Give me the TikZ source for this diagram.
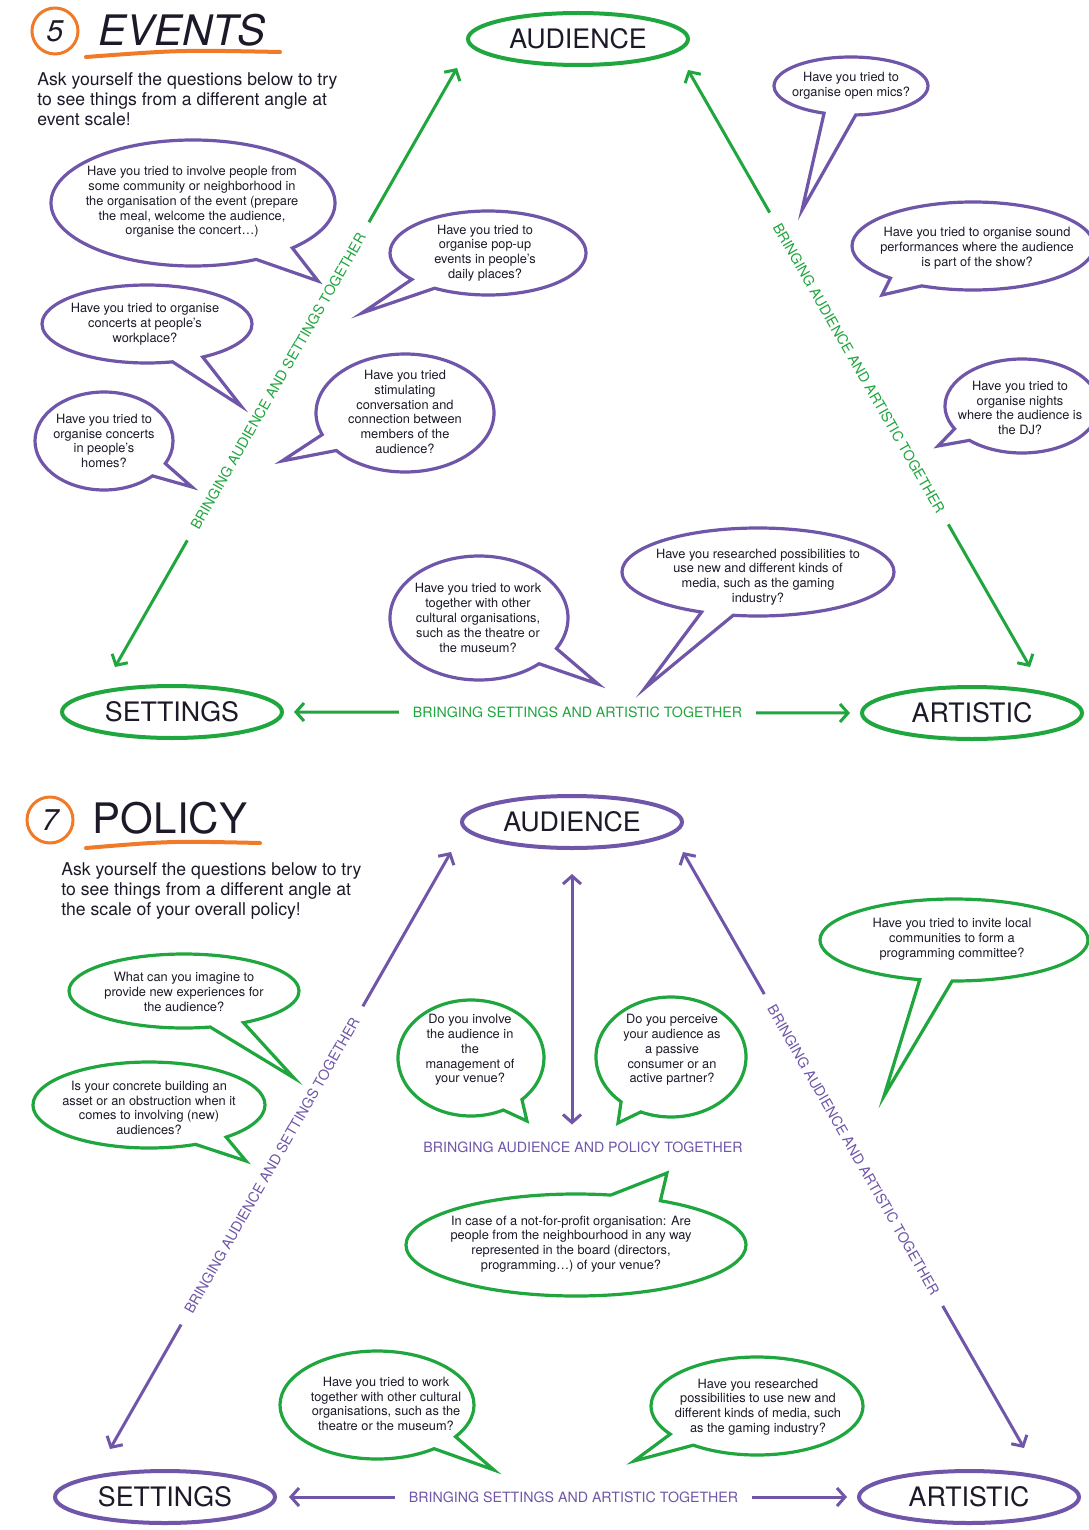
\documentclass[tikz,border=0pt]{standalone}
\usepackage{fontspec}
\setmainfont{TeX Gyre Heros}
\usetikzlibrary{shapes.geometric,shapes.callouts,arrows.meta}

\definecolor{evgreen}{RGB}{32,166,62}
\definecolor{polpurple}{RGB}{111,86,168}
\definecolor{tagorange}{RGB}{240,122,40}
\definecolor{inkdark}{RGB}{30,25,40}

\begin{document}
\begin{tikzpicture}[x=0.5pt, y=-0.5pt,
        hub/.style={ellipse, draw=#1, line width=2pt, minimum width=110pt, minimum height=26pt, inner sep=0pt, text=inkdark, font=\fontsize{13.4}{14}\selectfont},
        qbubble/.style={ellipse callout, draw=#1, line width=1.6pt, fill=white, inner sep=0pt, callout pointer arc=18},
        qtext/.style={align=center, inner sep=0pt, text=inkdark, font=\fontsize{6.4}{7.4}\selectfont},
        linkline/.style={draw=#1, line width=1.5pt, {Straight Barb[length=4pt,width=9pt]}-{Straight Barb[length=4pt,width=9pt]}},
        linktag/.style={fill=white, text=#1, inner xsep=7pt, inner ysep=1pt, font=\fontsize{7.1}{8}\selectfont},
        intro/.style={align=left, anchor=west, inner sep=0pt, text=inkdark, font=\fontsize{8.8}{10}\selectfont},
        numring/.style={circle, draw=tagorange, line width=1.5pt, minimum size=23pt, inner sep=0pt, text=inkdark, font=\fontsize{15}{15}\selectfont\itshape}]
        \fill[white] (0,0) rectangle (1088,1530);
        \useasboundingbox (0,0) rectangle (1088,1530);

        \node[numring] (num5) at (55,31) {5};
        \node[text=inkdark, font=\fontsize{21}{21}\selectfont\itshape] (evtitle) at (182,30) {EVENTS};
        \draw[tagorange, line width=2pt, line cap=round] (86,57) .. controls (180,50) .. (280,52);
        \node[intro] (evintro) at (37,99) {Ask yourself the questions below to try\\to see things from a different angle at\\event scale!};

        \node[hub=evgreen] (aud1) at (578,39) {AUDIENCE};
        \node[hub=evgreen] (set1) at (172,712) {SETTINGS};
        \node[hub=evgreen] (art1) at (972,713) {ARTISTIC};

        \draw[linkline=evgreen] ([shift={(-57,-17)}]set1.north) -- node[linktag=evgreen, sloped, pos=.477] {BRINGING AUDIENCE AND SETTINGS TOGETHER} ([shift={(-9,29)}]aud1.west);
        \draw[linkline=evgreen] ([shift={(-2,31)}]aud1.east) -- node[linktag=evgreen, sloped] {BRINGING AUDIENCE AND ARTISTIC TOGETHER} ([shift={(58,-18)}]art1.north);
        \draw[linkline=evgreen] ([xshift=5pt]set1.east) -- node[linktag=evgreen, pos=.51] {BRINGING SETTINGS AND ARTISTIC TOGETHER} ([xshift=-5pt]art1.west);

        \node[qbubble=polpurple, minimum width=142pt, minimum height=63pt, callout absolute pointer={(318,281)}] (q1) at (193,203) {};
        \node[qtext] (t1) at (192,202) {Have you tried to involve people from\\some community or neighborhood in\\the organisation of the event (prepare\\the meal, welcome the audience,\\organise the concert\ldots)};
        \node[qbubble=polpurple, minimum width=105pt, minimum height=39pt, callout absolute pointer={(241,406)}] (q2) at (147,324) {};
        \node[qtext] (t2) at (145,324) {Have you tried to organise\\concerts at people’s\\workplace?};
        \node[qbubble=polpurple, minimum width=69pt, minimum height=49pt, callout absolute pointer={(192,487)}] (q3) at (104,441) {};
        \node[qtext] (t3) at (104,441) {Have you tried to\\organise concerts\\in people’s\\homes?};
        \node[qbubble=polpurple, minimum width=98pt, minimum height=42pt, callout absolute pointer={(362,313)}] (q4) at (488,253) {};
        \node[qtext] (t4) at (485,253) {Have you tried to\\organise pop-up\\events in people’s\\daily places?};
        \node[qbubble=polpurple, minimum width=89pt, minimum height=59pt, callout absolute pointer={(282,461)}] (q5) at (405,413) {};
        \node[qtext] (t5) at (405,412) {Have you tried\\stimulating\\conversation and\\connection between\\members of the\\audience?};
        \node[qbubble=polpurple, minimum width=77pt, minimum height=29pt, callout absolute pointer={(802,210)}, callout pointer arc=24] (q6) at (851,86) {};
        \node[qtext] (t6) at (851,86) {Have you tried to\\organise open mics?};
        \node[qbubble=polpurple, minimum width=121pt, minimum height=44pt, callout absolute pointer={(882,295)}] (q7) at (973,246) {};
        \node[qtext] (t7) at (977,248) {Have you tried to organise sound\\performances where the audience\\is part of the show?};
        \node[qbubble=polpurple, minimum width=77pt, minimum height=47pt, callout absolute pointer={(938,446)}] (q8) at (1022,406) {};
        \node[qtext] (t8) at (1020,408) {Have you tried to\\organise nights\\where the audience is\\the DJ?};
        \node[qbubble=polpurple, minimum width=89pt, minimum height=62pt, callout absolute pointer={(598,684)}] (q9) at (479,618) {};
        \node[qtext] (t9) at (478,618) {Have you tried to work\\together with other\\cultural organisations,\\such as the theatre or\\the museum?};
        \node[qbubble=polpurple, minimum width=136pt, minimum height=44pt, callout absolute pointer={(645,688)}, callout pointer arc=14] (q10) at (758,572) {};
        \node[qtext] (t10) at (758,577) {Have you researched possibilities to\\use new and different kinds of\\media, such as the gaming\\industry?};

        \node[numring] (num7) at (50,820) {7};
        \node[text=inkdark, font=\fontsize{21}{21}\selectfont] (poltitle) at (170,818) {POLICY};
        \draw[tagorange, line width=2pt, line cap=round] (86,848) .. controls (170,841) .. (260,843);
        \node[intro] (polintro) at (61,891) {Ask yourself the questions below to try\\to see things from a different angle at\\the scale of your overall policy!};

        \node[hub=polpurple] (aud2) at (572,822) {AUDIENCE};
        \node[hub=polpurple] (set2) at (165,1497) {SETTINGS};
        \node[hub=polpurple] (art2) at (969,1497) {ARTISTIC};
        \node[text=polpurple, font=\fontsize{7.1}{8}\selectfont] (pol) at (583,1147) {BRINGING AUDIENCE AND POLICY TOGETHER};

        \draw[linkline=polpurple] ([shift={(-55,-20)}]set2.north) -- node[linktag=polpurple, sloped, pos=.475] {BRINGING AUDIENCE AND SETTINGS TOGETHER} ([shift={(-9,30)}]aud2.west);
        \draw[linkline=polpurple] ([shift={(-1,30)}]aud2.east) -- node[linktag=polpurple, sloped] {BRINGING AUDIENCE AND ARTISTIC TOGETHER} ([shift={(55,-21)}]art2.north);
        \draw[linkline=polpurple] ([xshift=6pt]set2.east) -- node[linktag=polpurple, pos=.51] {BRINGING SETTINGS AND ARTISTIC TOGETHER} ([xshift=-5pt]art2.west);
        \draw[linkline=polpurple, shorten <=12pt, shorten >=5pt] (aud2.south) -- (aud2.south |- pol.north);

        \node[qbubble=evgreen, minimum width=115pt, minimum height=37pt, callout absolute pointer={(294,1078)}] (p1) at (184,991) {};
        \node[qtext] (s1) at (184,992) {What can you imagine to\\provide new experiences for\\the audience?};
        \node[qbubble=evgreen, minimum width=116pt, minimum height=43pt, callout absolute pointer={(246,1161)}] (p2) at (149,1105) {};
        \node[qtext] (s2) at (149,1108) {Is your concrete building an\\asset or an obstruction when it\\comes to involving (new)\\audiences?};
        \node[qbubble=evgreen, minimum width=73pt, minimum height=58pt, callout absolute pointer={(527,1121)}] (p3) at (471,1058) {};
        \node[qtext] (s3) at (470,1050) {Do you involve\\the audience in\\the\\management of\\your venue?};
        \node[qbubble=evgreen, minimum width=75pt, minimum height=60pt, callout absolute pointer={(618,1123)}] (p4) at (671,1057) {};
        \node[qtext] (s4) at (672,1050) {Do you perceive\\your audience as\\a passive\\consumer or an\\active partner?};
        \node[qbubble=evgreen, minimum width=170pt, minimum height=51pt, callout absolute pointer={(667,1173)}] (p5) at (576,1245) {};
        \node[qtext] (s5) at (571,1244) {In case of a not-for-profit organisation: Are\\people from the neighbourhood in any way\\represented in the board (directors,\\programming\ldots) of your venue?};
        \node[qbubble=evgreen, minimum width=134pt, minimum height=41pt, callout absolute pointer={(884,1096)}, callout pointer arc=14] (p6) at (954,940) {};
        \node[qtext] (s6) at (952,939) {Have you tried to invite local\\communities to form a\\programming committee?};
        \node[qbubble=evgreen, minimum width=97pt, minimum height=54pt, callout absolute pointer={(494,1470)}] (p7) at (377,1405) {};
        \node[qtext] (s7) at (386,1404) {Have you tried to work\\together with other cultural\\organisations, such as the\\theatre or the museum?};
        \node[qbubble=evgreen, minimum width=106pt, minimum height=49pt, callout absolute pointer={(634,1461)}] (p8) at (757,1406) {};
        \node[qtext] (s8) at (758,1407) {Have you researched\\possibilities to use new and\\different kinds of media, such\\as the gaming industry?};
    \end{tikzpicture}
\end{document}
